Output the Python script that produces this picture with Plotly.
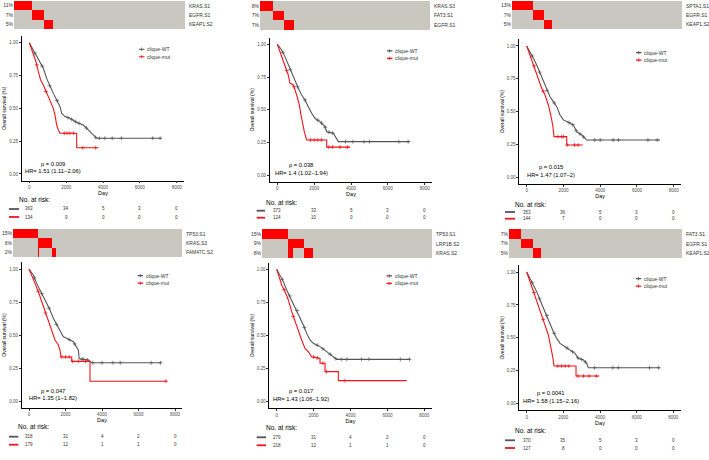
import numpy as np
import plotly.graph_objects as go

W, H = 709, 460
N_SAMPLES = 497
risk_times = [0, 2000, 4000, 6000, 8000]
y_ticks = [0, 0.25, 0.5, 0.75, 1.0]
y_tick_text = ["0.00", "0.25", "0.50", "0.75", "1.00"]
group_names = ["clique-WT", "clique-mut"]

# ---------------- Panel 1 ----------------
p1_genes = ["KRAS.S1", "EGFR.S1", "KEAP1.S2"]
p1_pct = ["11%", "7%", "5%"]
p1_onco_flags = [[1, 1, 0], [1, 0, 0], [0, 1, 0], [0, 0, 1]]
p1_onco_counts = [1, 52, 33, 26]
p1_wt_t = [0, 217, 399, 580, 761, 942, 1123, 1304, 1486, 1667, 1757, 1938, 2210, 2572, 2935, 3207, 3388, 3659, 7190]
p1_wt_s = [1, .944, .893, .855, .805, .728, .665, .614, .563, .513, .462, .437, .424, .393, .373, .335, .305, .272, .272]
p1_mut_t = [0, 127, 217, 362, 489, 616, 761, 942, 1123, 1304, 1395, 1486, 1576, 1667, 2572, 2572, 3750]
p1_mut_s = [1, .944, .906, .855, .779, .716, .678, .614, .563, .5, .449, .373, .335, .31, .31, .20, .20]
p1_wt_cens = [300, 700, 1100, 1500, 2100, 2300, 2500, 2700, 3100, 3600, 3800, 4100, 4500, 5000, 6700, 7100]
p1_mut_cens = [400, 900, 1900, 2050, 2200, 2400, 2900, 3600]
p1_risk_wt = [363, 34, 5, 3, 0]
p1_risk_mut = [134, 9, 0, 0, 0]
p1_pval = "p = 0.009"
p1_hr = "HR= 1.51 (1.11\u22122.06)"

# ---------------- Panel 2 ----------------
p2_genes = ["KRAS.S3", "FAT3.S1", "EGFR.S1"]
p2_pct = ["8%", "7%", "7%"]
p2_onco_flags = [[1, 1, 0], [1, 0, 0], [0, 1, 0], [0, 0, 1]]
p2_onco_counts = [1, 37, 32, 30]
p2_wt_t = [0, 235, 416, 597, 778, 959, 1140, 1321, 1502, 1683, 1864, 2045, 2317, 2588, 2679, 3041, 3312, 7204]
p2_wt_s = [1, .957, .906, .842, .779, .715, .664, .613, .575, .524, .473, .435, .41, .372, .333, .321, .257, .257]
p2_mut_t = [0, 109, 235, 416, 597, 688, 869, 1050, 1195, 1285, 1376, 1466, 1593, 2679, 2679, 3946]
p2_mut_s = [1, .957, .893, .83, .766, .702, .69, .613, .537, .461, .384, .333, .27, .27, .215, .215]
p2_wt_cens = [300, 700, 1100, 1500, 2200, 2400, 2600, 2800, 3000, 3700, 4100, 4700, 5000, 6600, 7100]
p2_mut_cens = [500, 900, 1800, 2000, 2200, 2400, 2800, 3000, 3400, 3800]
p2_risk_wt = [373, 33, 5, 3, 0]
p2_risk_mut = [124, 10, 0, 0, 0]
p2_pval = "p = 0.038"
p2_hr = "HR= 1.4 (1.02\u22121.94)"

# ---------------- Panel 3 ----------------
p3_genes = ["SPTA1.S1", "EGFR.S1", "KEAP1.S2"]
p3_pct = ["13%", "7%", "5%"]
p3_onco_flags = [[1, 0, 1], [1, 0, 0], [0, 1, 0], [0, 0, 1]]
p3_onco_counts = [1, 60, 33, 24]
p3_wt_t = [0, 181, 363, 544, 726, 907, 1088, 1270, 1451, 1633, 1814, 1995, 2268, 2540, 2721, 2993, 3265, 7256]
p3_wt_s = [1, .957, .906, .855, .792, .728, .665, .614, .576, .538, .475, .437, .419, .398, .348, .322, .284, .284]
p3_mut_t = [0, 145, 272, 454, 635, 816, 998, 1179, 1306, 1415, 1488, 2177, 2177, 3048]
p3_mut_s = [1, .944, .893, .83, .754, .678, .627, .551, .475, .398, .31, .31, .246, .246]
p3_wt_cens = [300, 700, 1100, 1500, 2300, 2500, 2700, 2900, 3100, 3700, 4000, 4700, 5000, 6600, 7100]
p3_mut_cens = [400, 900, 1700, 1900, 2000, 2200, 2600, 2800]
p3_risk_wt = [353, 36, 5, 3, 0]
p3_risk_mut = [144, 7, 0, 0, 0]
p3_pval = "p = 0.015"
p3_hr = "HR= 1.47 (1.07\u22122)"

# ---------------- Panel 4 ----------------
p4_genes = ["TP53.S1", "KRAS.S3", "FAM47C.S2"]
p4_pct = ["15%", "6%", "2%"]
p4_onco_flags = [[1, 0, 0], [0, 1, 1], [0, 1, 0], [0, 0, 1]]
p4_onco_counts = [74, 1, 40, 12]
p4_wt_t = [0, 237, 420, 603, 785, 968, 1151, 1333, 1516, 1699, 1881, 2064, 2429, 2703, 2750, 3251, 3434, 7269]
p4_wt_s = [1, .955, .891, .841, .79, .74, .689, .626, .576, .525, .487, .475, .449, .386, .32, .31, .29, .29]
p4_mut_t = [0, 146, 329, 511, 694, 877, 1059, 1242, 1425, 1607, 1699, 1750, 2340, 2340, 3342, 3342, 7550]
p4_mut_s = [1, .955, .891, .828, .753, .677, .601, .525, .462, .424, .386, .333, .333, .30, .30, .15, .15]
p4_wt_cens = [300, 700, 1100, 1500, 2200, 2500, 2900, 3000, 3200, 3500, 4000, 4600, 5000, 6700, 7200]
p4_mut_cens = [500, 900, 1800, 2000, 2200, 2400, 2700, 3100, 7500]
p4_risk_wt = [318, 31, 4, 2, 0]
p4_risk_mut = [179, 12, 1, 1, 0]
p4_pval = "p = 0.047"
p4_hr = "HR= 1.35 (1\u22121.82)"

# ---------------- Panel 5 ----------------
p5_genes = ["TP53.S1", "LRP1B.S2", "KRAS.S2"]
p5_pct = ["15%", "9%", "8%"]
p5_onco_flags = [[1, 0, 0], [0, 1, 1], [0, 1, 0], [0, 0, 1]]
p5_onco_counts = [76, 15, 32, 26]
p5_wt_t = [0, 181, 361, 542, 722, 903, 1084, 1264, 1445, 1625, 1806, 1986, 2348, 2709, 3070, 3251, 7223]
p5_wt_s = [1, .957, .907, .844, .793, .743, .693, .642, .579, .516, .466, .441, .416, .378, .34, .32, .32]
p5_mut_t = [0, 144, 271, 451, 632, 813, 993, 1174, 1354, 1535, 1715, 1896, 2348, 2348, 2619, 2619, 3341, 3341, 7043]
p5_mut_s = [1, .945, .882, .831, .768, .68, .605, .529, .466, .403, .378, .34, .327, .29, .29, .227, .227, .159, .159]
p5_wt_cens = [300, 700, 1100, 1500, 2200, 2500, 2900, 3200, 3500, 3800, 4600, 5000, 6700, 7200]
p5_mut_cens = [400, 900, 2000, 2200, 2500, 2700, 3700]
p5_risk_wt = [279, 31, 4, 2, 0]
p5_risk_mut = [218, 12, 1, 1, 0]
p5_pval = "p = 0.017"
p5_hr = "HR= 1.43 (1.06\u22121.92)"

# ---------------- Panel 6 ----------------
p6_genes = ["FAT3.S1", "EGFR.S1", "KEAP1.S2"]
p6_pct = ["7%", "7%", "5%"]
p6_onco_flags = [[1, 0, 1], [1, 0, 0], [0, 1, 0], [0, 0, 1]]
p6_onco_counts = [1, 34, 34, 24]
p6_wt_t = [0, 182, 364, 545, 727, 909, 1091, 1273, 1455, 1636, 1818, 2091, 2364, 2636, 2818, 3091, 3273, 3364, 7273]
p6_wt_s = [1, .952, .901, .851, .787, .724, .673, .61, .547, .496, .458, .433, .408, .382, .344, .332, .306, .273, .273]
p6_mut_t = [0, 145, 273, 455, 636, 818, 1000, 1182, 1309, 1418, 1491, 2691, 2691, 3964]
p6_mut_s = [1, .939, .889, .825, .749, .673, .597, .522, .446, .357, .286, .286, .21, .21]
p6_wt_cens = [300, 700, 1100, 1500, 2200, 2500, 2800, 3000, 3200, 3700, 4700, 5000, 6700, 7200]
p6_mut_cens = [400, 900, 1700, 1900, 2100, 2300, 2800, 3100, 3400, 3800]
p6_risk_wt = [370, 35, 5, 3, 0]
p6_risk_mut = [127, 8, 0, 0, 0]
p6_pval = "p = 0.0041"
p6_hr = "HR= 1.58 (1.15\u22122.16)"

panels = [
    dict(genes=p1_genes, pct=p1_pct, flags=p1_onco_flags, counts=p1_onco_counts,
         wt=(p1_wt_t, p1_wt_s, p1_wt_cens), mut=(p1_mut_t, p1_mut_s, p1_mut_cens),
         risk=(p1_risk_wt, p1_risk_mut), pval=p1_pval, hr=p1_hr),
    dict(genes=p2_genes, pct=p2_pct, flags=p2_onco_flags, counts=p2_onco_counts,
         wt=(p2_wt_t, p2_wt_s, p2_wt_cens), mut=(p2_mut_t, p2_mut_s, p2_mut_cens),
         risk=(p2_risk_wt, p2_risk_mut), pval=p2_pval, hr=p2_hr),
    dict(genes=p3_genes, pct=p3_pct, flags=p3_onco_flags, counts=p3_onco_counts,
         wt=(p3_wt_t, p3_wt_s, p3_wt_cens), mut=(p3_mut_t, p3_mut_s, p3_mut_cens),
         risk=(p3_risk_wt, p3_risk_mut), pval=p3_pval, hr=p3_hr),
    dict(genes=p4_genes, pct=p4_pct, flags=p4_onco_flags, counts=p4_onco_counts,
         wt=(p4_wt_t, p4_wt_s, p4_wt_cens), mut=(p4_mut_t, p4_mut_s, p4_mut_cens),
         risk=(p4_risk_wt, p4_risk_mut), pval=p4_pval, hr=p4_hr),
    dict(genes=p5_genes, pct=p5_pct, flags=p5_onco_flags, counts=p5_onco_counts,
         wt=(p5_wt_t, p5_wt_s, p5_wt_cens), mut=(p5_mut_t, p5_mut_s, p5_mut_cens),
         risk=(p5_risk_wt, p5_risk_mut), pval=p5_pval, hr=p5_hr),
    dict(genes=p6_genes, pct=p6_pct, flags=p6_onco_flags, counts=p6_onco_counts,
         wt=(p6_wt_t, p6_wt_s, p6_wt_cens), mut=(p6_mut_t, p6_mut_s, p6_mut_cens),
         risk=(p6_risk_wt, p6_risk_mut), pval=p6_pval, hr=p6_hr),
]

# ---------------- layout geometry (pixels) ----------------
HEAT_BOX = [(14, 185, 1, 29), (260, 430, 1, 30), (512, 682, 1, 29),
            (13, 182, 229, 257), (262, 432, 229, 258), (509, 682, 229, 258)]
KM_PX = [(29.3, 176.7, 42.7, 174), (277.3, 424.7, 44.3, 175.3), (526.7, 673.7, 46, 177.3),
         (29, 175, 269, 401), (276.7, 424.3, 269.3, 401.7), (526.7, 673.3, 272, 403.7)]
RISK_HDR_X = [17, 264, 513.3, 16, 264.3, 513.3]
RISK_KEY_X = [(9, 19), (256.7, 265), (505, 515), (9, 18.3), (256.7, 266), (505, 515)]
RISK_Y = [(200, 209, 217), (202.7, 210.7, 217.7), (204.3, 212, 218.7),
          (426.7, 436.7, 444.7), (427, 437.3, 445.3), (430.7, 440.3, 448)]

GRAY = "#cac7c1"
RED = "#ff0000"
WT_COL = "#555555"
MUT_COL = "#f2141a"
FONT = "Liberation Sans, Arial, sans-serif"
TXT = "#333333"


def ax_key(i, kind):
    return f"{kind}axis" if i == 1 else f"{kind}axis{i}"


def ax_ref(i, kind):
    return kind if i == 1 else f"{kind}{i}"


def onco_matrix(flags, counts, n):
    z = np.zeros((3, n))
    c = 0
    for f, cnt in zip(flags, counts):
        for r in range(3):
            if f[r]:
                z[r, c:c + cnt] = 1
        c += cnt
    return z


fig = go.Figure()
layout = dict(width=W, height=H, margin=dict(l=0, r=0, t=0, b=0),
              paper_bgcolor="white", plot_bgcolor="white", showlegend=False,
              font=dict(family=FONT, color=TXT))
annotations = []
shapes = []

for k, p in enumerate(panels):
    hid = k + 1
    kid = k + 7
    # ---- oncoprint heatmap ----
    l, r, t, b = HEAT_BOX[k]
    z = onco_matrix(p["flags"], p["counts"], N_SAMPLES)
    fig.add_trace(go.Heatmap(z=z, x=np.arange(N_SAMPLES), y=[0, 1, 2],
                             colorscale=[[0, GRAY], [1, RED]], zmin=0, zmax=1,
                             showscale=False, hoverinfo="skip",
                             xaxis=ax_ref(hid, "x"), yaxis=ax_ref(hid, "y")))
    layout[ax_key(hid, "x")] = dict(domain=[l / W, r / W], anchor=ax_ref(hid, "y"),
                                    range=[-0.5, N_SAMPLES - 0.5], visible=False)
    layout[ax_key(hid, "y")] = dict(domain=[1 - b / H, 1 - t / H], anchor=ax_ref(hid, "x"),
                                    range=[2.5, -0.5], tickvals=[0, 1, 2], ticktext=p["pct"],
                                    ticks="", showline=False, showgrid=False, zeroline=False,
                                    tickfont=dict(size=5, color=TXT, family=FONT))
    for ri, g in enumerate(p["genes"]):
        annotations.append(dict(text=g, xref=f"{ax_ref(hid, 'x')} domain", x=1, xanchor="left",
                                xshift=1.5, yref=ax_ref(hid, "y"), y=ri, yanchor="middle",
                                showarrow=False, font=dict(size=5, color=TXT, family=FONT)))

    # ---- KM plot ----
    x0, x8, y1, y0 = KM_PX[k]
    dx = x8 - x0
    dy = y0 - y1
    xl, xr = x0 - 0.05 * dx, x8 + 0.05 * dx
    yt, yb = y1 - 0.05 * dy, y0 + 0.05 * dy
    xr_ref, yr_ref = ax_ref(kid, "x"), ax_ref(kid, "y")
    for (tt, ss, cc), col in ((p["wt"], WT_COL), (p["mut"], MUT_COL)):
        fig.add_trace(go.Scatter(x=tt, y=ss, mode="lines", line=dict(color=col, width=1.1),
                                 hoverinfo="skip", xaxis=xr_ref, yaxis=yr_ref))
        fig.add_trace(go.Scatter(x=cc, y=np.interp(cc, tt, ss), mode="markers",
                                 marker=dict(symbol="cross-thin", size=2.8,
                                             line=dict(width=0.7, color=col)),
                                 hoverinfo="skip", xaxis=xr_ref, yaxis=yr_ref))
    layout[ax_key(kid, "x")] = dict(
        domain=[xl / W, xr / W], anchor=yr_ref, range=[-400, 8400], tickvals=risk_times,
        ticks="outside", ticklen=2, tickwidth=0.6, tickcolor="#333", showline=True,
        linecolor="black", linewidth=0.8, showgrid=False, zeroline=False,
        tickfont=dict(size=4.5, color="#4d4d4d", family=FONT),
        title=dict(text="Day", font=dict(size=5.5, color="black", family=FONT), standoff=1))
    layout[ax_key(kid, "y")] = dict(
        domain=[1 - yb / H, 1 - yt / H], anchor=xr_ref, range=[-0.05, 1.05], tickvals=y_ticks,
        ticktext=y_tick_text, ticks="outside", ticklen=2, tickwidth=0.6, tickcolor="#333",
        showline=True, linecolor="black", linewidth=0.8, showgrid=False, zeroline=False,
        tickfont=dict(size=4.5, color="#4d4d4d", family=FONT),
        title=dict(text="Overall survival (%)", font=dict(size=5, color="black", family=FONT),
                   standoff=2))

    # legend (drawn in panel)
    for name, col, ly in ((group_names[0], WT_COL, 0.95), (group_names[1], MUT_COL, 0.893)):
        shapes.append(dict(type="line", xref=xr_ref, yref=yr_ref, x0=5950, x1=6250, y0=ly, y1=ly,
                           line=dict(color=col, width=1.2)))
        shapes.append(dict(type="line", xref=xr_ref, yref=yr_ref, x0=6100, x1=6100,
                           y0=ly - 0.013, y1=ly + 0.013, line=dict(color=col, width=0.8)))
        annotations.append(dict(text=name, xref=xr_ref, yref=yr_ref, x=6300, y=ly,
                                xanchor="left", yanchor="middle", showarrow=False,
                                font=dict(size=5, color=TXT, family=FONT)))

    # p-value and HR
    annotations.append(dict(text=p["pval"], xref=xr_ref, yref=yr_ref, x=1300, y=0.078,
                            xanchor="center", yanchor="middle", showarrow=False,
                            font=dict(size=5.8, color="black", family=FONT)))
    annotations.append(dict(text=p["hr"], xref=xr_ref, yref=yr_ref, x=1300, y=0.02,
                            xanchor="center", yanchor="middle", showarrow=False,
                            font=dict(size=5.8, color="black", family=FONT)))

    # risk table
    hy, wy, my = RISK_Y[k]
    annotations.append(dict(text="No. at risk:", xref="paper", yref="paper",
                            x=RISK_HDR_X[k] / W, y=1 - hy / H, xanchor="left", yanchor="middle",
                            showarrow=False, font=dict(size=6.5, color="black", family=FONT)))
    kx0, kx1 = RISK_KEY_X[k]
    for vals, col, ry in ((p["risk"][0], WT_COL, wy), (p["risk"][1], MUT_COL, my)):
        shapes.append(dict(type="line", xref="paper", yref="paper", x0=kx0 / W, x1=kx1 / W,
                           y0=1 - ry / H, y1=1 - ry / H, line=dict(color=col, width=1.8)))
        for tv, v in zip(risk_times, vals):
            annotations.append(dict(text=str(v), xref=xr_ref, yref="paper", x=tv, y=1 - ry / H,
                                    xanchor="center", yanchor="middle", showarrow=False,
                                    font=dict(size=4.5, color=TXT, family=FONT)))

layout["annotations"] = annotations
layout["shapes"] = shapes
fig.update_layout(**layout)
fig.write_html("out.html", config={"displayModeBar": False},
               post_script="document.body.style.margin='0';document.body.style.padding='0';")
